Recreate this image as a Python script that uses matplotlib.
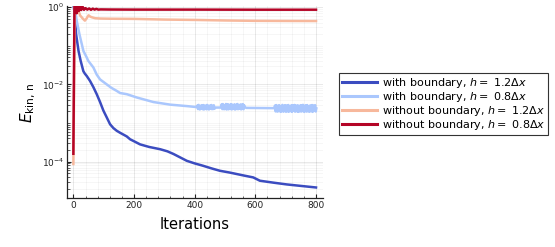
import numpy as np
import matplotlib
matplotlib.use("Agg")
import matplotlib.pyplot as plt
from matplotlib.ticker import LogLocator, MultipleLocator, NullFormatter, FixedLocator

# ---------------- data ----------------
labels = [
    r"with boundary, $h =$ 1.2$\Delta x$",
    r"with boundary, $h =$ 0.8$\Delta x$",
    r"without boundary, $h =$ 1.2$\Delta x$",
    r"without boundary, $h =$ 0.8$\Delta x$",
]

# with boundary, h = 1.2 dx
wb12_iter = [0, 4, 9, 17, 24, 33, 38, 44, 55, 66, 77, 88, 99, 110, 121, 132, 143, 154,
             176, 187, 220, 250, 286, 310, 330, 374, 400, 428, 455, 483, 516, 560, 593,
             615, 660, 703, 750, 800]
wb12_val = [1.3, 0.7, 0.2, 0.074, 0.041, 0.022, 0.019, 0.0166, 0.0123, 0.0085, 0.0056,
            0.0035, 0.0021, 0.0014, 9.3e-4, 7.4e-4, 6.3e-4, 5.6e-4,
            4.5e-4, 3.8e-4, 2.8e-4, 2.4e-4, 2.1e-4, 1.85e-4, 1.58e-4, 1.05e-4, 9.0e-5,
            7.8e-5, 6.7e-5, 5.8e-5, 5.2e-5, 4.4e-5, 3.9e-5,
            3.2e-5, 2.85e-5, 2.57e-5, 2.35e-5, 2.14e-5]

# with boundary, h = 0.8 dx (smooth part, then noisy stretches; noisy values in units of 1e-3)
wb08_iter = [0, 5, 11, 20, 33, 44, 49, 66, 77, 88, 100, 110, 125, 143, 154, 176, 209,
             264, 319, 374, 405]
wb08_val = [1.5, 0.9, 0.45, 0.2, 0.074, 0.05, 0.041, 0.0275, 0.018, 0.0135, 0.0115,
            0.010, 0.0082, 0.0068, 0.006, 0.0056, 0.0046, 0.0035, 0.0030, 0.00275, 0.0026]
wb08_band1_iter = list(range(409, 468, 2))
wb08_band1_val = [2.85, 2.30, 2.95, 2.55, 2.25, 2.78, 2.36, 2.90, 2.70, 2.28,
                  2.92, 2.26, 2.60, 2.84, 2.40, 2.27, 2.95, 2.33, 2.80, 2.25,
                  2.50, 2.86, 2.38, 2.93, 2.29, 2.76, 2.31, 2.89, 2.34, 2.45]
wb08_gap1_iter = [471, 486]
wb08_gap1_val = [2.52, 2.52]
wb08_band2_iter = list(range(489, 566, 2))
wb08_band2_val = [3.05, 2.30, 3.10, 2.60, 2.28, 2.90, 2.35, 3.12, 2.25, 2.70,
                  3.08, 2.27, 2.95, 2.33, 2.55, 3.10, 2.26, 3.02, 2.30, 2.85,
                  2.38, 3.06, 2.24, 2.65, 2.98, 2.31, 3.11, 2.29, 2.92, 2.36,
                  2.58, 3.04, 2.26, 2.97, 2.34, 3.09, 2.28, 2.88, 2.60]
wb08_gap2_iter = [570, 620, 662]
wb08_gap2_val = [2.47, 2.44, 2.43]
wb08_band3_iter = list(range(665, 802, 2))
wb08_band3_val = [2.85, 2.00, 2.92, 2.40, 1.98, 2.80, 2.05, 2.90, 2.50, 1.95,
                  2.75, 2.02, 2.95, 2.30, 1.97, 2.82, 2.10, 2.90, 1.96, 2.60,
                  2.86, 2.00, 2.93, 1.98, 2.45, 2.70, 2.03, 2.91, 1.95, 2.87,
                  2.35, 2.08, 2.94, 1.97, 2.83, 2.55, 2.02, 2.89, 1.96, 2.78,
                  2.00, 2.40, 2.90, 1.99, 2.84, 2.04, 2.96, 2.50, 1.94, 2.81,
                  2.06, 2.88, 1.98, 2.92, 2.30, 2.01, 2.74, 1.97, 2.87, 2.55,
                  2.03, 2.93, 1.95, 2.85, 2.07, 2.60, 2.90, 1.99, 2.40]

# without boundary, h = 1.2 dx
nb12_iter = [0, 5, 10, 16, 22, 30, 38, 44, 50, 56, 61, 72, 90, 120, 200, 300, 400, 500,
             600, 700, 800]
nb12_val = [8.7e-5, 1.5, 1.3, 0.86, 0.62, 0.52, 0.45, 0.52, 0.62, 0.57, 0.55, 0.52,
            0.51, 0.505, 0.50, 0.48, 0.47, 0.455, 0.445, 0.442, 0.44]

# without boundary, h = 0.8 dx
nb08_iter = [0, 4, 8, 11, 14, 18, 22, 26, 30, 35, 40, 46, 52, 58, 64, 70, 76, 82, 90,
             120, 200, 400, 600, 800]
nb08_val = [1.6e-4, 3.0, 1.2, 0.7, 1.3, 0.8, 1.15, 0.85, 1.05, 0.86, 0.95, 0.87, 0.93,
            0.86, 0.92, 0.87, 0.91, 0.87, 0.88, 0.875, 0.87, 0.87, 0.865, 0.865]

xticks = [0, 200, 400, 600, 800]
yticks = [1e0, 1e-2, 1e-4]
ytick_labels = [r"$10^{0}$", r"$10^{-2}$", r"$10^{-4}$"]

# ---------------- figure ----------------
W, H = 555, 247
fig = plt.figure(figsize=(W / 100, H / 100), dpi=100)
ax = fig.add_axes([67 / W, 1 - 198.3 / H, (323 - 67) / W, (198.3 - 6.5) / H])

cols = [plt.cm.coolwarm(v) for v in (0.0, 1 / 3, 2 / 3, 1.0)]
lw = 1.8

milli = 1e-3
wb08_all_iter = (wb08_iter + wb08_band1_iter + wb08_gap1_iter + wb08_band2_iter
                 + wb08_gap2_iter + wb08_band3_iter)
wb08_all_val = (list(wb08_val)
                + [v * milli for v in wb08_band1_val]
                + [v * milli for v in wb08_gap1_val]
                + [v * milli for v in wb08_band2_val]
                + [v * milli for v in wb08_gap2_val]
                + [v * milli for v in wb08_band3_val])

series = [
    (wb12_iter, wb12_val),
    (wb08_all_iter, wb08_all_val),
    (nb12_iter, nb12_val),
    (nb08_iter, nb08_val),
]
handles = []
for (xs, ys), c, lab in zip(series, cols, labels):
    h, = ax.plot(xs, ys, color=c, lw=lw, label=lab, solid_joinstyle="round")
    handles.append(h)

ax.set_yscale("log")
ax.set_xlim(-21, 823)
ax.set_ylim(10 ** -4.95, 10 ** 0.02)

ax.xaxis.set_major_locator(FixedLocator(xticks))
ax.xaxis.set_minor_locator(MultipleLocator(40))
ax.yaxis.set_major_locator(FixedLocator(yticks))
ax.set_yticklabels(ytick_labels)
ax.yaxis.set_minor_locator(LogLocator(base=10, subs=np.arange(1, 10), numticks=50))
ax.yaxis.set_minor_formatter(NullFormatter())

ax.grid(True, which="major", color="#000000", alpha=0.10, lw=0.6)
ax.grid(True, which="minor", color="#000000", alpha=0.05, lw=0.5)

for s in ("top", "right"):
    ax.spines[s].set_visible(False)
for s in ("left", "bottom"):
    ax.spines[s].set_linewidth(0.9)
    ax.spines[s].set_color("#222222")

ax.tick_params(which="major", direction="in", length=3, width=0.8, labelsize=6.5,
               colors="#222222", pad=2)
ax.tick_params(which="minor", direction="in", length=1.8, width=0.5, colors="#222222")

ax.set_xlabel("Iterations", fontsize=10.5, labelpad=5)
ax.set_ylabel(r"$E_{\mathrm{kin,\,n}}$", fontsize=11, labelpad=3)

leg = fig.legend(handles=handles, loc="upper left",
                 bbox_to_anchor=(339 / W, 1 - 73 / H), borderaxespad=0,
                 fontsize=8, frameon=True, fancybox=False, framealpha=1,
                 edgecolor="#333333", handlelength=3.2, handletextpad=0.4,
                 labelspacing=0.0, borderpad=0.25)
leg.get_frame().set_linewidth(0.8)
for l in leg.get_lines():
    l.set_linewidth(2.2)

fig.savefig("out.png", dpi=100)
